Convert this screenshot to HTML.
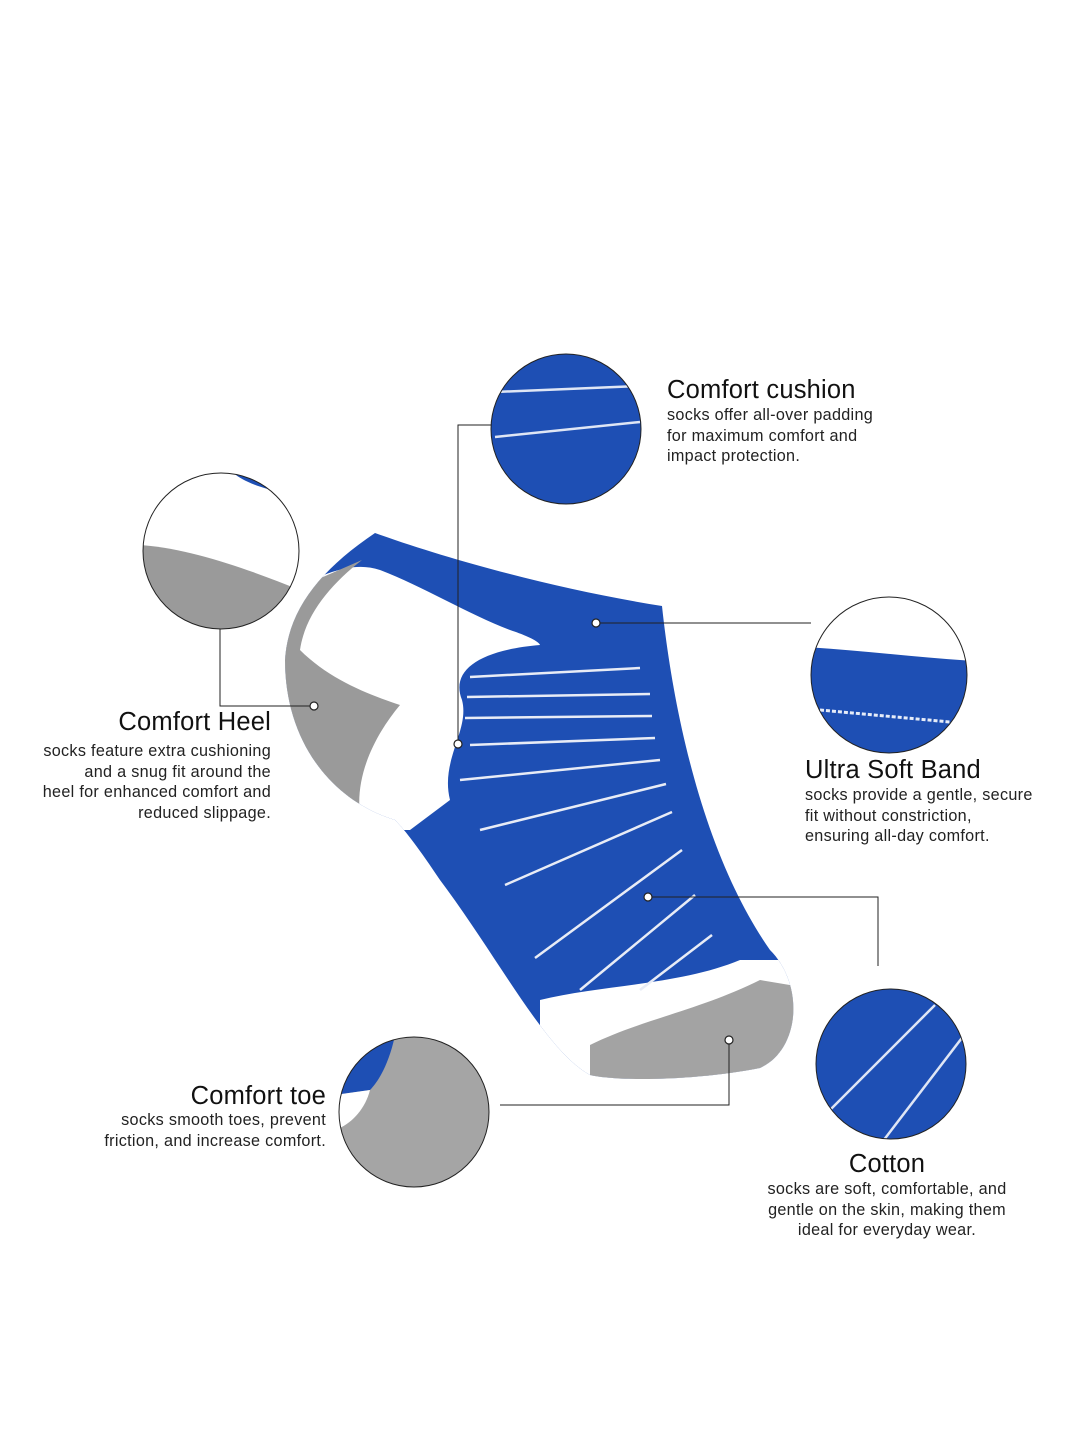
<!DOCTYPE html>
<html><head><meta charset="utf-8"><style>
html,body{margin:0;padding:0;background:#fff}
body{width:1080px;height:1440px;position:relative;overflow:hidden;font-family:"Liberation Sans",sans-serif;color:#111}
.h{position:absolute;font-size:25.5px;line-height:28px;white-space:nowrap;letter-spacing:0.2px}
.b{position:absolute;font-size:16.2px;line-height:20.6px;white-space:nowrap;color:#222;letter-spacing:0.3px}
.r{text-align:right}.c{text-align:center}
</style></head><body>
<svg width="1080" height="1440" style="position:absolute;left:0;top:0">
<defs>
<clipPath id="sock"><path d="M375,533 C450,560 560,590 662,606 C672,700 700,850 770,950 C805,985 800,1050 760,1068 C700,1080 620,1082 590,1075 C545,1050 500,960 440,880 C420,850 405,830 395,820 C330,800 285,740 285,660 C288,610 320,570 375,533 Z"/></clipPath>
<clipPath id="c1"><circle cx="566" cy="429" r="75"/></clipPath>
<clipPath id="c2"><circle cx="221" cy="551" r="78"/></clipPath>
<clipPath id="c3"><circle cx="889" cy="675" r="78"/></clipPath>
<clipPath id="c4"><circle cx="891" cy="1064" r="75"/></clipPath>
<clipPath id="c5"><circle cx="414" cy="1112" r="75"/></clipPath>
</defs>
<g clip-path="url(#sock)">
<rect x="270" y="520" width="560" height="580" fill="#1e4fb4"/>
<path d="M270,600 C320,575 350,560 380,570 C420,585 470,615 510,630 C540,640 540,645 540,645 C480,650 450,670 462,700 C470,730 440,760 450,800 L410,830 L270,830 Z" fill="#fff"/>
<path d="M362,560 C330,585 305,615 300,650 C330,680 370,695 400,705 C375,735 355,775 360,815 L270,815 L270,600 Z" fill="#9a9a9a"/>
<path d="M540,1000 C600,985 680,985 740,960 L820,960 L820,1100 L540,1100 Z" fill="#fff"/>
<path d="M590,1045 C640,1020 700,1010 760,980 L820,990 L820,1100 L590,1100 Z" fill="#a3a3a3"/>
<g stroke="#e8ecf6" stroke-width="2.5" fill="none">
<line x1="470" y1="677" x2="640" y2="668"/><line x1="467" y1="697" x2="650" y2="694"/>
<line x1="465" y1="718" x2="652" y2="716"/><line x1="470" y1="745" x2="655" y2="738"/>
<line x1="460" y1="780" x2="660" y2="760"/><line x1="480" y1="830" x2="666" y2="784"/>
<line x1="505" y1="885" x2="672" y2="812"/><line x1="535" y1="958" x2="682" y2="850"/>
<line x1="580" y1="990" x2="695" y2="895"/><line x1="640" y1="990" x2="712" y2="935"/>
</g>
</g>
<g clip-path="url(#c1)"><rect x="480" y="340" width="180" height="180" fill="#1e4fb4"/>
<g stroke="#dfe6f5" stroke-width="2.5"><line x1="495" y1="392" x2="640" y2="386"/><line x1="495" y1="437" x2="640" y2="422"/></g></g>
<circle cx="566" cy="429" r="75" fill="none" stroke="#222" stroke-width="1"/>
<g clip-path="url(#c2)"><rect x="140" y="470" width="170" height="170" fill="#fff"/>
<path d="M140,545 C190,548 250,570 300,590 L300,640 L140,640 Z" fill="#9a9a9a"/>
<path d="M230,470 C240,480 260,490 300,495 L300,460 L230,460 Z" fill="#1e4fb4"/></g>
<circle cx="221" cy="551" r="78" fill="none" stroke="#222" stroke-width="1"/>
<g clip-path="url(#c3)"><rect x="805" y="590" width="170" height="170" fill="#fff"/>
<path d="M805,647 C860,650 920,658 975,661 L975,760 L805,760 Z" fill="#1e4fb4"/>
<path d="M820,710 L950,722" stroke="#e6ecf8" stroke-width="3" stroke-dasharray="4,2"/></g>
<circle cx="889" cy="675" r="78" fill="none" stroke="#222" stroke-width="1"/>
<g clip-path="url(#c4)"><rect x="810" y="985" width="165" height="165" fill="#1e4fb4"/>
<g stroke="#dfe6f5" stroke-width="2.5"><line x1="830" y1="1110" x2="935" y2="1005"/><line x1="880" y1="1145" x2="968" y2="1030"/></g></g>
<circle cx="891" cy="1064" r="75" fill="none" stroke="#222" stroke-width="1"/>
<g clip-path="url(#c5)"><rect x="335" y="1035" width="160" height="160" fill="#a5a5a5"/>
<path d="M335,1035 L395,1035 C390,1060 380,1080 370,1090 L335,1095 Z" fill="#1e4fb4"/>
<path d="M335,1095 L370,1090 C365,1110 350,1125 335,1130 Z" fill="#fff"/></g>
<circle cx="414" cy="1112" r="75" fill="none" stroke="#222" stroke-width="1"/>
<g stroke="#222" stroke-width="1" fill="none">
<polyline points="458,744 458,425 491,425"/>
<polyline points="220,629 220,706 314,706"/>
<line x1="596" y1="623" x2="811" y2="623"/>
<polyline points="648,897 878,897 878,966"/>
<polyline points="729,1040 729,1105 500,1105"/>
</g>
<g fill="#fff" stroke="#222" stroke-width="1.2">
<circle cx="458" cy="744" r="4"/><circle cx="314" cy="706" r="4"/><circle cx="596" cy="623" r="4"/><circle cx="648" cy="897" r="4"/><circle cx="729" cy="1040" r="4"/>
</g>
</svg>
<div class="h" style="left:667px;top:376px">Comfort cushion</div>
<div class="b" style="left:667px;top:405px">socks offer all-over padding<br>for maximum comfort and<br>impact protection.</div>
<div class="h r" style="right:809px;top:708px">Comfort Heel</div>
<div class="b r" style="right:809px;top:741px">socks feature extra cushioning<br>and a snug fit around the<br>heel for enhanced comfort and<br>reduced slippage.</div>
<div class="h" style="left:805px;top:756px">Ultra Soft Band</div>
<div class="b" style="left:805px;top:785px">socks provide a gentle, secure<br>fit without constriction,<br>ensuring all-day comfort.</div>
<div class="h c" style="left:737px;width:300px;top:1150px">Cotton</div>
<div class="b c" style="left:737px;width:300px;top:1179px">socks are soft, comfortable, and<br>gentle on the skin, making them<br>ideal for everyday wear.</div>
<div class="h r" style="right:754px;top:1082px">Comfort toe</div>
<div class="b r" style="right:754px;top:1110px">socks smooth toes, prevent<br>friction, and increase comfort.</div>
</body></html>
